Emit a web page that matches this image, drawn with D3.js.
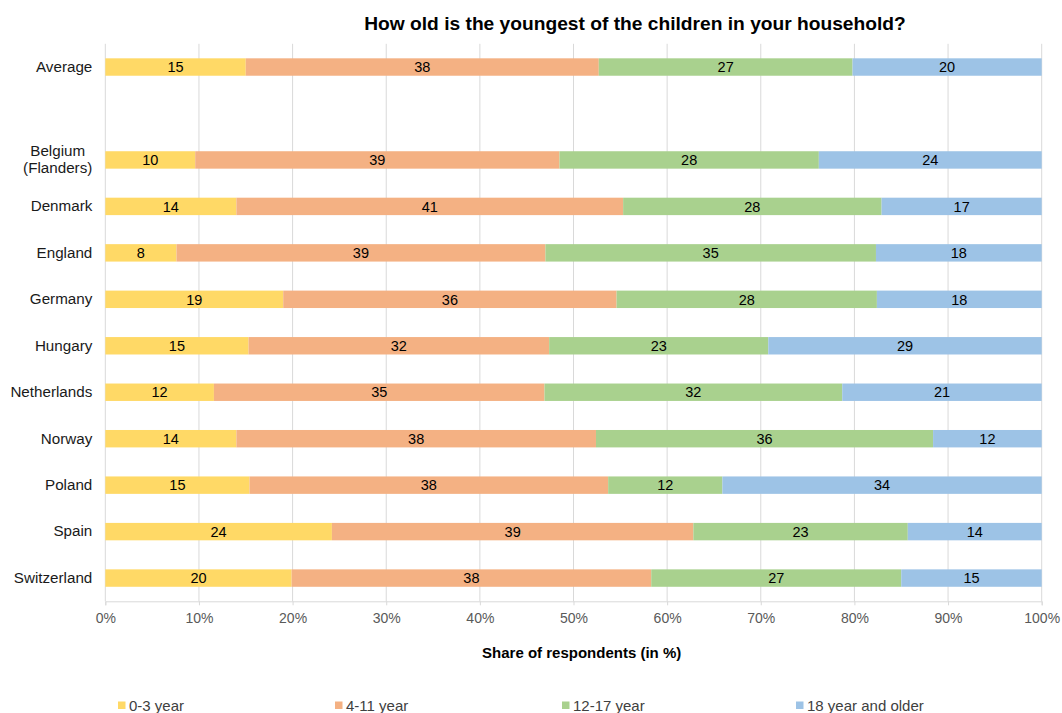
<!DOCTYPE html>
<html>
<head>
<meta charset="utf-8">
<script src="https://cdn.jsdelivr.net/npm/d3@7"></script>
<style>
  html, body { margin: 0; padding: 0; background: #fff; }
  svg { display: block; font-family: Arial, "Liberation Sans", sans-serif; }
</style>
</head>
<body>
<svg id="chart" width="1062" height="713"></svg>
<script>
// ---- data ----
const categories = ["Average", "", "Belgium\n(Flanders)", "Denmark", "England", "Germany", "Hungary",
  "Netherlands", "Norway", "Poland", "Spain", "Switzerland"];
const seriesNames = ["0-3 year", "4-11 year", "12-17 year", "18 year and older"];
const age0to3   = [15.0, null, 9.6, 14.0, 7.6, 19.0, 15.3, 11.6, 14.0, 15.4, 24.2, 19.9];
const age4to11  = [37.7, null, 38.9, 41.3, 39.4, 35.6, 32.1, 35.3, 38.4, 38.3, 38.6, 38.4];
const age12to17 = [27.1, null, 27.7, 27.6, 35.3, 27.8, 23.4, 31.8, 36.0, 12.2, 22.9, 26.7];
const age18plus = [20.2, null, 23.8, 17.1, 17.7, 17.6, 29.2, 21.3, 11.6, 34.1, 14.3, 15.0];
const xTicks = [0, 10, 20, 30, 40, 50, 60, 70, 80, 90, 100];
const titleText = "How old is the youngest of the children in your household?";
const xAxisTitle = "Share of respondents (in %)";

// ---- styles ----
const colors = ["#FFD966", "#F4B183", "#A9D18E", "#9DC3E6"];
const legendX = [118, 335, 562, 796];

const svg = d3.select("#chart");
const seriesValues = [age0to3, age4to11, age12to17, age18plus];

const rows = categories.map((c, i) => {
  const r = { key: "c" + i, label: c };
  seriesNames.forEach((s, j) => r[s] = seriesValues[j][i] == null ? 0 : seriesValues[j][i]);
  r.empty = seriesValues[0][i] == null;
  return r;
});

const x = d3.scaleLinear().domain([0, 100]).range([105.3, 1041.7]);
const y = d3.scaleBand().domain(rows.map(r => r.key)).range([43.8, 601.3])
  .paddingInner(0.625).paddingOuter(0.3125);

// gridlines
svg.append("g").selectAll("line").data(xTicks).join("line")
  .attr("x1", d => x(d)).attr("x2", d => x(d))
  .attr("y1", 43.8).attr("y2", 601.3)
  .attr("stroke", "#d9d9d9").attr("stroke-width", 1);

// x axis
const xAxis = svg.append("g").attr("transform", "translate(0,601.3)")
  .call(d3.axisBottom(x).tickValues(xTicks).tickFormat(d => d + "%").tickSize(4).tickPadding(8));
xAxis.select(".domain").attr("stroke", "#d9d9d9");
xAxis.selectAll(".tick line").attr("stroke", "#d9d9d9");
xAxis.selectAll(".tick text").attr("fill", "#595959").style("font-size", "14px")
  .style("font-family", "Arial, 'Liberation Sans', sans-serif");

// stacked bars
const stack = d3.stack().keys(seriesNames);
const stacked = stack(rows.filter(r => !r.empty));
const layers = svg.append("g").selectAll("g").data(stacked).join("g")
  .attr("fill", (d, i) => colors[i]);
layers.selectAll("rect").data(d => d).join("rect")
  .attr("x", d => x(d[0]))
  .attr("width", d => x(d[1]) - x(d[0]))
  .attr("y", d => y(d.data.key))
  .attr("height", y.bandwidth());

// value labels
const lab = svg.append("g");
stacked.forEach(layer => {
  lab.selectAll(null).data(layer).join("text")
    .attr("x", d => (x(d[0]) + x(d[1])) / 2)
    .attr("y", d => y(d.data.key) + y.bandwidth() / 2)
    .attr("dy", "0.36em")
    .attr("text-anchor", "middle")
    .attr("fill", "#000")
    .style("font-size", "14.5px")
    .text(d => Math.round(d[1] - d[0]));
});

// y axis labels
const yAxis = svg.append("g").attr("transform", "translate(105.3,0)")
  .call(d3.axisLeft(y).tickSize(0).tickPadding(13).tickFormat(k => rows.find(r => r.key === k).label));
yAxis.select(".domain").remove();
yAxis.selectAll(".tick text").attr("fill", "#1a1a1a").style("font-size", "15.2px")
  .style("font-family", "Arial, 'Liberation Sans', sans-serif")
  .each(function () {
    const t = d3.select(this);
    const lines = t.text().split("\n");
    if (lines.length > 1) {
      t.text(null);
      const xEnd = +t.attr("x");
      lines.forEach((ln, i) => {
        t.append("tspan").attr("x", 0).attr("dy", i === 0 ? (-(lines.length - 1) * 0.56 + 0.32) + "em" : "1.12em").text(ln);
      });
      let maxW = 0;
      t.selectAll("tspan").each(function () { maxW = Math.max(maxW, this.getComputedTextLength()); });
      t.attr("text-anchor", "middle").attr("dy", null);
      t.selectAll("tspan").attr("x", xEnd - maxW / 2);
    }
  });

// title
svg.append("text").attr("x", 635).attr("y", 30).attr("text-anchor", "middle")
  .style("font-size", "19.2px").style("font-weight", "bold").attr("fill", "#000")
  .text(titleText);

// axis title
svg.append("text").attr("x", 581.7).attr("y", 658.3).attr("text-anchor", "middle")
  .style("font-size", "15px").style("font-weight", "bold").attr("fill", "#000")
  .text(xAxisTitle);

// legend
const leg = svg.append("g").selectAll("g").data(seriesNames).join("g")
  .attr("transform", (d, i) => `translate(${legendX[i]},0)`);
leg.append("rect").attr("x", 0).attr("y", 701.5).attr("width", 7.5).attr("height", 7.5)
  .attr("fill", (d, i) => colors[i]);
leg.append("text").attr("x", 11).attr("y", 710.5).attr("fill", "#404040")
  .style("font-size", "15px").text(d => d);
</script>
</body>
</html>
